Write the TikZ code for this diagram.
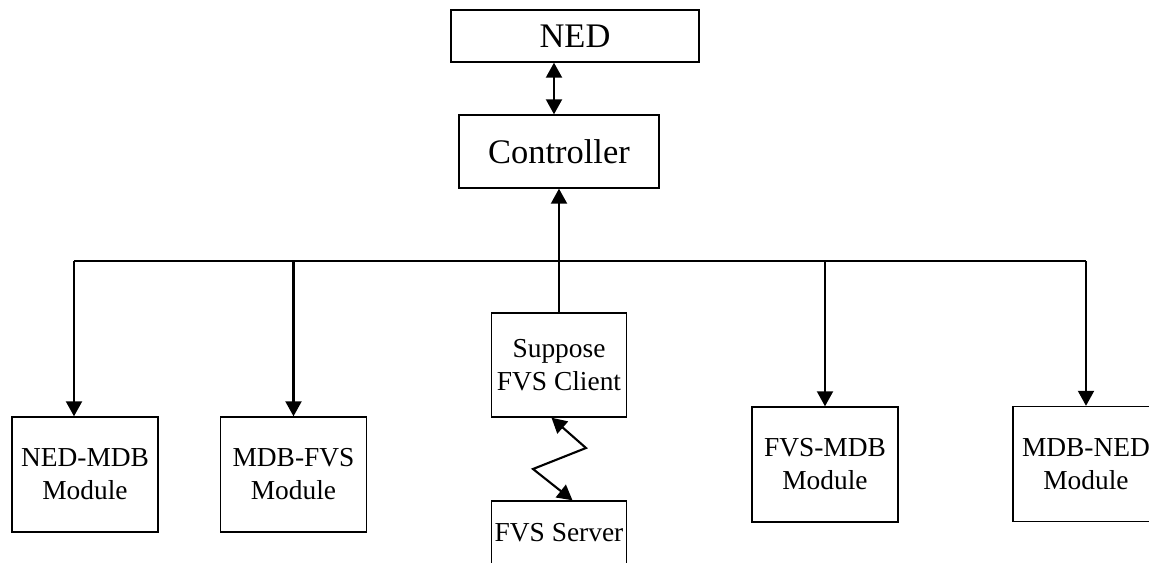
\documentclass[tikz,border=0pt]{standalone}
\usepackage{fontspec}
\setmainfont{Liberation Serif}
\usetikzlibrary{arrows.meta, positioning}

\begin{document}
\begin{tikzpicture}[
      box/.style={draw, line width=0.8pt, inner sep=0pt, align=center},
      big/.style={box, font=\fontsize{19.6}{23}\selectfont},
      small/.style={box, font=\fontsize{15.6}{18.8}\selectfont,
        minimum width=2.92cm, minimum height=2.3cm},
      wire/.style={line width=1.2pt},
      arr/.style={wire, -{Triangle[length=0.3cm, width=0.32cm]}},
      darr/.style={wire, {Triangle[length=0.3cm, width=0.32cm]}-{Triangle[length=0.3cm, width=0.32cm]}}]
    \useasboundingbox (0,0) rectangle (22.98,-11.26);
    % top part
    \node[big, minimum width=4.96cm, minimum height=1.04cm] (ned) at (11.5,-0.72) {NED};
    \node[big, minimum width=4.0cm, minimum height=1.46cm] (ctrl) at (11.18,-3.03) {Controller};
    % client and server
    \node[small, minimum width=2.7cm, minimum height=2.08cm] (client) at (11.18,-7.30) {Suppose\\FVS Client};
    \node[small, minimum width=2.7cm, minimum height=1.28cm] (server) at (11.18,-10.66) {FVS Server};
    % modules
    \node[small] (m1) at (1.70,-9.49) {NED-MDB\\Module};
    \node[small] (m2) at (5.87,-9.49) {MDB-FVS\\Module};
    \node[small] (m3) at (16.50,-9.29) {FVS-MDB\\Module};
    \node[small] (m4) at (21.72,-9.28) {MDB-NED\\Module};
    \coordinate (bus) at (0,-5.22);

    \draw[darr] ([xshift=-0.1cm]ctrl.north) -- ([xshift=-0.1cm]ned.south -| ctrl.north);
    \draw[arr] (client.north) -- (client.north |- ctrl.south);
    \draw[wire] ([xshift=-0.22cm]m1.north |- bus) -- (m4.north |- bus);
    \foreach \m/\dx in {m1/-0.22, m2/0, m3/0, m4/0}
      \draw[arr] ([xshift=\dx cm]\m.north |- bus) -- ([xshift=\dx cm]\m.north);
    \draw[darr] ([xshift=-0.15cm]client.south) -- (11.72,-8.96) -- (10.66,-9.38)
      -- ([xshift=0.27cm]server.north);
  \end{tikzpicture}
\end{document}
